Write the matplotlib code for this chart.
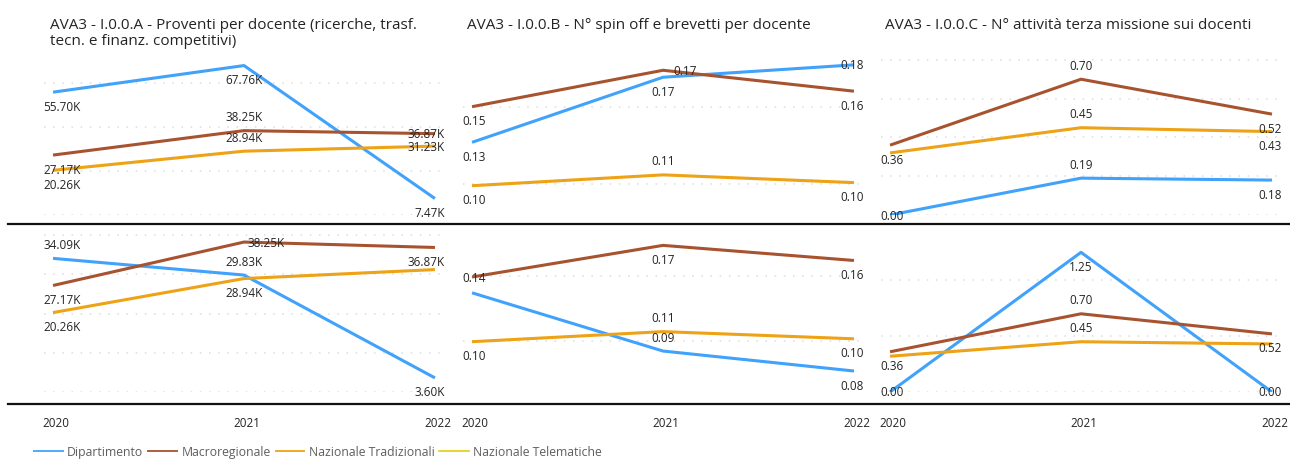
import numpy as np
import matplotlib
matplotlib.use("Agg")
import matplotlib.pyplot as plt
from matplotlib.transforms import ScaledTranslation

plt.rcParams['font.family'] = ['Open Sans', 'DejaVu Sans']

# years on the x axis
years = [2020, 2021, 2022]
year_labels = ['2020', '2021', '2022']

series_names = ['Dipartimento', 'Macroregionale', 'Nazionale Tradizionali', 'Nazionale Telematiche']

titles = [
    'AVA3 - I.0.0.A - Proventi per docente (ricerche, trasf.\ntecn. e finanz. competitivi)',
    'AVA3 - I.0.0.B - N° spin off e brevetti per docente',
    'AVA3 - I.0.0.C - N° attività terza missione sui docenti',
]

# I.0.0.A - proventi per docente (euro)
a_top_dip = [55700, 67760, 7470]
a_top_macro = [27170, 38250, 36870]
a_top_naz = [20260, 28940, 31230]
a_bot_dip = [34090, 29830, 3600]
a_bot_macro = [27170, 38250, 36870]
a_bot_naz = [20260, 28940, 31230]

# I.0.0.B - spin off e brevetti per docente
b_top_dip = [0.127, 0.169, 0.177]
b_top_macro = [0.150, 0.1735, 0.160]
b_top_naz = [0.099, 0.106, 0.101]
b_bot_dip = [0.133, 0.0925, 0.0786]
b_bot_macro = [0.144, 0.166, 0.1555]
b_bot_naz = [0.099, 0.106, 0.101]

# I.0.0.C - attivita terza missione sui docenti
c_top_dip = [0.00, 0.19, 0.18]
c_top_macro = [0.36, 0.70, 0.52]
c_top_naz = [0.32, 0.45, 0.43]
c_bot_dip = [0.00, 1.25, 0.00]
c_bot_macro = [0.36, 0.70, 0.52]
c_bot_naz = [0.32, 0.45, 0.43]

# no values for the telematic universities
telematiche = [np.nan, np.nan, np.nan]

colors = ['#41A2FB', '#A8532F', '#EEA215', '#E6D31E']
text_col = '#252423'

W, H = 1290, 477
fig = plt.figure(figsize=(W / 100, H / 100), dpi=100)

def px_axes(x0, y0, w, h):
    return fig.add_axes([x0 / W, 1 - (y0 + h) / H, w / W, h / H])

def fmt_k(v):
    return f'{v / 1000:.2f}K'

def fmt_2(v):
    return f'{v:.2f}'

# label placement: a=above, b=below, c=on the point, r=right of the point, None=hidden
panels = [
    # column, row, data, ylim, yticks, formatter, placements
    (0, 0, [a_top_dip, a_top_macro, a_top_naz], (0, 73000), [0, 20000, 40000, 60000], fmt_k,
     [['b', 'b', 'b'], ['b', 'a', 'c'], ['b', 'a', 'c']]),
    (0, 1, [a_bot_dip, a_bot_macro, a_bot_naz], (0, 41070), [0, 10000, 20000, 30000, 40000], fmt_k,
     [['a', 'a', 'b'], ['b', 'r', 'b'], ['b', 'b', None]]),
    (1, 0, [b_top_dip, b_top_macro, b_top_naz], (0.0801, 0.184), [0.10, 0.15], fmt_2,
     [['b', 'b', 'c'], ['b', 'r', 'b'], ['b', 'a', 'b']]),
    (1, 1, [b_bot_dip, b_bot_macro, b_bot_naz], (0.0640, 0.1760), [0.0997, 0.1447], fmt_2,
     [[None, 'a', 'b'], ['c', 'b', 'b'], ['b', 'a', 'b']]),
    (2, 0, [c_top_dip, c_top_macro, c_top_naz], (0, 0.83), [0, 0.2, 0.4, 0.6, 0.8], fmt_2,
     [['c', 'a', 'b'], ['b', 'a', 'b'], [None, 'a', 'b']]),
    (2, 1, [c_bot_dip, c_bot_macro, c_bot_naz], (0, 1.441), [0, 0.5, 1.0], fmt_2,
     [['c', 'b', 'c'], ['b', 'a', 'b'], [None, 'a', None]]),
]

col_x = [43.5, 462.5, 880.5]
row_y = [55, 232]
ax_w, ax_h = 401, 161
xlim = (2019.95, 2022.05)
offsets = {'a': (0, 14), 'b': (0, -14), 'c': (0, 0), 'r': (22, 0)}

handles = None
for col, row, data, ylim, yticks, fmt, places in panels:
    ax = px_axes(col_x[col], row_y[row], ax_w, ax_h)
    lines = []
    for vals, c in zip(data, colors[:3]):
        ln, = ax.plot(years, vals, color=c, lw=2.2, solid_capstyle='butt', zorder=3)
        lines.append(ln)
    tl, = ax.plot(years, telematiche, color=colors[3], lw=2.2)
    lines.append(tl)
    if handles is None:
        handles = lines

    ax.set_xlim(*xlim)
    ax.set_ylim(*ylim)
    ax.set_yticks(yticks)
    ax.grid(axis='y', color='#DCDCDC', lw=1.1, linestyle=(0, (1, 5)))
    ax.set_axisbelow(True)
    for s in ax.spines.values():
        s.set_visible(False)
    ax.tick_params(axis='y', length=0, labelleft=False)
    ax.set_xticks(years)
    if row == 1:
        ax.set_xticklabels(year_labels, fontsize=8.4, color=text_col)
        ax.tick_params(axis='x', length=0, pad=17)
        for lab in ax.get_xticklabels():
            lab.set_transform(lab.get_transform() + ScaledTranslation(3 / 100, 0, fig.dpi_scale_trans))
    else:
        ax.tick_params(axis='x', length=0, labelbottom=False)

    # data labels
    for vals, pl in zip(data, places):
        for i, (yr, v, p) in enumerate(zip(years, vals, pl)):
            if p is None:
                continue
            dx, dy = offsets[p]
            if i == 0:
                xa, ha = xlim[0], 'left'
            elif i == len(years) - 1:
                xa, ha = xlim[1], 'right'
            else:
                xa, ha = yr, 'center'
            ax.annotate(fmt(v), xy=(xa, v), xytext=(dx, dy), textcoords='offset pixels',
                        ha=ha, va='center', fontsize=8.5, color=text_col,
                        annotation_clip=False, zorder=4)

# titles
title_x = [50, 467, 885]
for tx, t in zip(title_x, titles):
    fig.text(tx / W, 1 - 18 / H, t, ha='left', va='top', fontsize=11,
             color=text_col, linespacing=1.1)

# row separators
for yy in [224.5, 404.5]:
    fig.add_artist(plt.Line2D([8 / W, 1], [1 - yy / H, 1 - yy / H], color='#111111', lw=1.6))

leg = fig.legend(handles, series_names, loc='center left', bbox_to_anchor=(33 / W, 1 - 453 / H),
                 ncol=4, frameon=False, fontsize=8.8, handlelength=2.5, handletextpad=0.3,
                 columnspacing=0.32, borderpad=0, borderaxespad=0)
for ln in leg.get_lines():
    ln.set_linewidth(1.3)
for t in leg.get_texts():
    t.set_color('#605E5C')

fig.savefig('out.png', dpi=100, facecolor='white')
